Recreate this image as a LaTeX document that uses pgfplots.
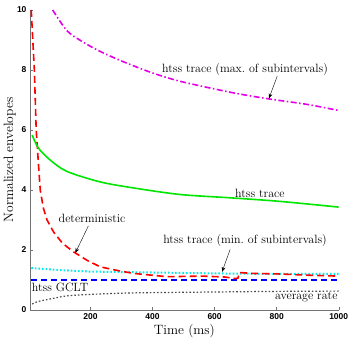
\documentclass[border=0pt]{standalone}
\usepackage{fontspec}
\setsansfont{Liberation Sans}
\usepackage{pgfplots}
\pgfplotsset{compat=1.18}
\usetikzlibrary{arrows.meta}

\definecolor{axgray}{gray}{0.45}
\definecolor{mag}{RGB}{230,0,230}
\definecolor{grn}{RGB}{0,230,0}
\definecolor{cyn}{RGB}{0,235,235}

\begin{document}
\begin{tikzpicture}
\useasboundingbox (0,0) rectangle (360pt,338pt);
\begin{axis}[
  at={(30pt,28pt)}, anchor=south west,
  scale only axis,
  width=308.7pt, height=300pt,
  xmin=5, xmax=1000, ymin=0, ymax=10,
  xtick={200,400,600,800,1000},
  ytick={0,2,4,6,8,10},
  axis lines=left,
  axis line style={axgray, -},
  tick style={axgray, thin},
  tick align=inside,
  major tick length=3pt,
  /pgf/number format/assume math mode=true,
  /pgf/number format/1000 sep={},
  ticklabel style={font=\fontsize{8.5}{9}\selectfont\sffamily\bfseries},
  xlabel={Time (ms)},
  ylabel={Normalized envelopes},
  label style={font=\fontsize{13.5}{14}\selectfont},
  xlabel style={at={(axis description cs:0.5,-0.07)}, anchor=center},
  ylabel style={at={(axis description cs:-0.066,0.5)}, anchor=center},
  every axis plot/.append style={line width=1.6pt},
  clip=true
]
% average rate
\addplot[black!70, dotted, line width=1.2pt, smooth] coordinates {
  (12,0.2) (30,0.28) (81,0.39) (124,0.47) (200,0.52) (339,0.57) (600,0.6) (800,0.62) (1000,0.63)
};
% htss GCLT
\addplot[blue, dash pattern=on 6pt off 4pt] coordinates {(9,1.0) (1000,1.0)};
% htss trace (min. of subintervals)
\addplot[cyn, dotted, line width=2pt] coordinates {
  (9,1.4) (100,1.33) (200,1.28) (400,1.25) (600,1.22) (800,1.2) (1000,1.2)
};
% deterministic
\addplot[red, dash pattern=on 7pt off 4pt] coordinates {
  (9,10) (14,9) (19,8) (25,6) (32,4.9) (38,4.0) (48,3.4) (60,3.0) (81,2.6)
  (110,2.22) (145,1.94) (190,1.65) (231,1.44) (285,1.32) (339,1.22) (446,1.11)
  (560,1.13) (632,1.1) (665,1.05) (675,1.06) (680,1.25) (720,1.22) (814,1.2)
  (900,1.16) (997,1.13)
};
% htss trace
\addplot[grn, solid, smooth] coordinates {
  (12,5.83) (32,5.4) (70,5.0) (124,4.62) (231,4.27) (338,4.07) (489,3.85)
  (650,3.74) (811,3.62) (1000,3.43)
};
% htss trace (max. of subintervals)
\addplot[mag, smooth, dash pattern=on 6pt off 2.5pt on 1.5pt off 2.5pt] coordinates {
  (78,10) (125,9.3) (178,8.92) (231,8.62) (300,8.3) (392,7.93) (479,7.65)
  (585,7.4) (680,7.2) (779,7.03) (900,6.85) (1000,6.65)
};

\begin{scope}[every node/.style={font=\fontsize{12}{13}\selectfont, inner sep=1pt}]
\node at (axis cs:698,8.0) {htss trace (max.\ of subintervals)};
\draw[-{Stealth[length=5pt]}, thin] (axis cs:802,7.8) -- (axis cs:775,7.05);
\node at (axis cs:746,3.89) {htss trace};
\node at (axis cs:205,3.06) {deterministic};
\draw[-{Stealth[length=5pt]}, thin] (axis cs:193,2.8) -- (axis cs:151,1.9);
\node at (axis cs:698,2.3) {htss trace (min.\ of subintervals)};
\draw[-{Stealth[length=5pt]}, thin] (axis cs:650,2.02) -- (axis cs:624,1.27);
\node at (axis cs:102,0.76) {htss GCLT};
\node[anchor=east] at (axis cs:1000,0.43) {average rate};
\end{scope}
\end{axis}
\end{tikzpicture}
\end{document}
